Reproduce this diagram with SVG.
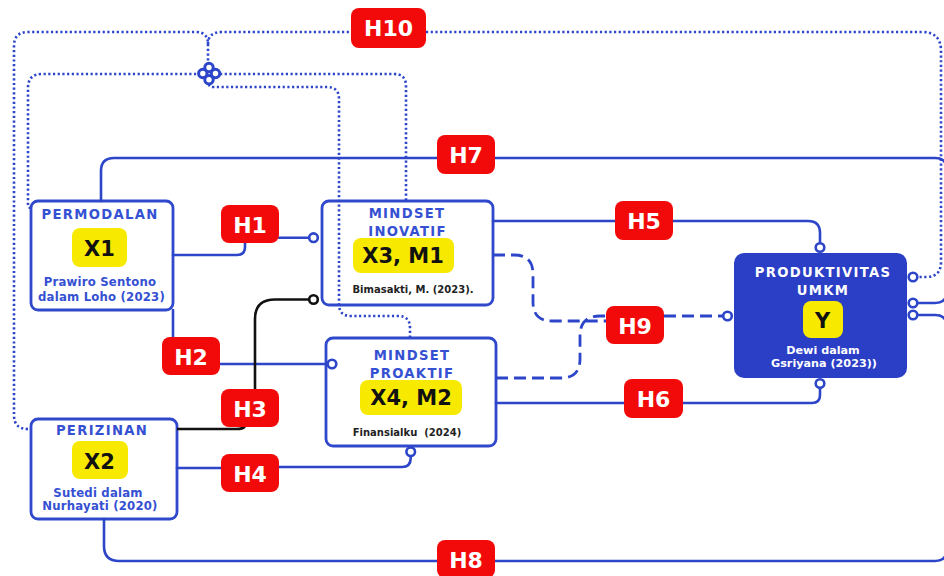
<svg xmlns="http://www.w3.org/2000/svg" width="944" height="576" viewBox="0 0 944 576">
<style>
.box{fill:#fff;stroke:#2f48cc;stroke-width:2.8}
.ybox{fill:#2a3ec6;stroke:none}
.yel{fill:#f7ea00}
.c{fill:none;stroke:#2c45c9;stroke-width:2.6;stroke-linecap:round;stroke-linejoin:round}
.k{fill:none;stroke:#111;stroke-width:2.6}
.d{fill:none;stroke:#2c45c9;stroke-width:2.8;stroke-dasharray:12 6}
.o{fill:none;stroke:#2c45c9;stroke-width:2.6;stroke-dasharray:2.2 2.5}
.p{fill:#fff;stroke:#2c45c9;stroke-width:2.6}
.pj{fill:#fff;stroke:#2c45c9;stroke-width:3}
.pk{fill:#fff;stroke:#111;stroke-width:2.6}
.lab{fill:#f20a0a}
text{font-family:"DejaVu Sans","Liberation Sans",sans-serif;font-weight:bold;text-anchor:middle}
.t{font-size:13.2px;letter-spacing:1.3px;fill:#3550d2}
.tw{font-size:13.2px;letter-spacing:1.3px;fill:#fff}
.code{font-size:21px;fill:#111}
.r{font-size:11.7px;letter-spacing:0.2px;fill:#3550d2}
.rw{font-size:11.2px;fill:#fff}
.rk{font-size:10px;fill:#222;white-space:pre}
.h{font-size:22px;fill:#fff}
</style>

<g id="node-x1">
<rect class="box" x="31" y="201" width="142" height="109" rx="7"/>
<text class="t" x="100" y="219">PERMODALAN</text>
<rect class="yel" x="72" y="228" width="55" height="39" rx="8"/>
<text class="code" x="99.5" y="256">X1</text>
<text class="r" x="100" y="286">Prawiro Sentono</text>
<text class="r" x="101.5" y="301">dalam Loho (2023)</text>
</g>

<g id="node-x3">
<rect class="box" x="322" y="201" width="171" height="104" rx="7"/>
<text class="t" x="407" y="218">MINDSET</text>
<text class="t" x="407.5" y="235.5">INOVATIF</text>
<rect class="yel" x="353" y="238" width="101" height="35" rx="8"/>
<text class="code" x="403" y="263">X3, M1</text>
<text class="rk" x="413" y="293">Bimasakti, M. (2023).</text>
</g>

<g id="node-x4">
<rect class="box" x="326" y="338" width="170" height="108" rx="7"/>
<text class="t" x="412" y="360">MINDSET</text>
<text class="t" x="412" y="378">PROAKTIF</text>
<rect class="yel" x="360" y="380" width="102" height="35" rx="8"/>
<text class="code" x="411" y="405">X4, M2</text>
<text class="rk" x="407" y="436">Finansialku  (2024)</text>
</g>

<g id="node-x2">
<rect class="box" x="31" y="419" width="146" height="100" rx="7"/>
<text class="t" x="102" y="435">PERIZINAN</text>
<rect class="yel" x="72" y="441" width="56" height="38" rx="8"/>
<text class="code" x="99.5" y="469">X2</text>
<text class="r" x="98" y="497">Sutedi dalam</text>
<text class="r" x="100" y="510">Nurhayati (2020)</text>
</g>

<g id="node-y">
<rect class="ybox" x="734" y="253" width="173" height="125" rx="10"/>
<text class="tw" x="823" y="277">PRODUKTIVITAS</text>
<text class="tw" x="823" y="294.5">UMKM</text>
<rect class="yel" x="803" y="301" width="40" height="37" rx="8"/>
<text class="code" x="822.5" y="328">Y</text>
<text class="rw" x="823" y="353.5">Dewi dalam</text>
<text class="rw" x="824" y="367">Gsriyana (2023))</text>
</g>

<g id="connectors">
<!-- H10 dotted network -->
<path class="o" d="M28,429 Q14,429 14,415 V46 Q14,32 28,32 H196 Q208,32 208,44 V63"/>
<path class="o" d="M208,44 Q208,32 222,32 H351"/>
<path class="o" d="M426,32 H922 Q941,32 941,51 V262 Q941,277 926,277 H918"/>
<path class="o" d="M31,208 Q28,208 28,204 V88 Q28,74 42,74 H198"/>
<path class="o" d="M220,74 H394 Q406,74 406,86 V201"/>
<path class="o" d="M209,84 Q209,87 213,87 H327 Q339,87 339,99 V304 Q339,316 351,316 H398 Q410,316 410,328 V338"/>
<circle class="pj" cx="209" cy="67.5" r="4.2"/>
<circle class="pj" cx="202.8" cy="73.5" r="4.2"/>
<circle class="pj" cx="215.5" cy="73.5" r="4.2"/>
<circle class="pj" cx="209" cy="79.8" r="4.2"/>
<circle class="p" cx="913" cy="277" r="4.3"/>
<!-- H7 -->
<path class="c" d="M101,201 V171 Q101,158 114,158 H935 Q947,158 947,170 V291 Q947,303 935,303 H917.5"/>
<circle class="p" cx="913" cy="303" r="4.3"/>
<!-- H8 -->
<path class="c" d="M104,519 V546 Q104,561 119,561 H935 Q947,561 947,549 V327 Q947,315 935,315 H917.5"/>
<circle class="p" cx="913" cy="315" r="4.3"/>
<!-- H1 -->
<path class="c" d="M173,255 H237 Q245,255 245,247 V243"/>
<path class="c" d="M279,237.7 H309"/>
<circle class="p" cx="313.5" cy="237.7" r="4.3"/>
<!-- H2 -->
<path class="c" d="M173,310 V337"/>
<path class="c" d="M220,364 H327.5"/>
<circle class="p" cx="332" cy="364" r="4.3"/>
<!-- H3 black -->
<path class="k" d="M177,429 H236 Q244,429 245,426"/>
<path class="k" d="M255,389 V319 Q255,299.5 275,299.5 H309"/>
<circle class="pk" cx="313.5" cy="299.5" r="4.3"/>
<!-- H4 -->
<path class="c" d="M177,468 H221"/>
<path class="c" d="M279,467 H402 Q410.7,467 410.7,458 V456"/>
<circle class="p" cx="410.7" cy="451.7" r="4.3"/>
<!-- H5 -->
<path class="c" d="M493,221 H615"/>
<path class="c" d="M673,221 H808 Q820,221 820,233 V243"/>
<circle class="p" cx="820" cy="247.5" r="4.3"/>
<!-- H6 -->
<path class="c" d="M496,403 H624"/>
<path class="c" d="M683,403 H812 Q820,403 820,395 V388"/>
<circle class="p" cx="820" cy="383.5" r="4.3"/>
<!-- H9 dashed -->
<path class="d" d="M493,255 H514 Q533,255 533,274 V302 Q533,321 552,321 H606"/>
<path class="d" d="M496,378 H561 Q580,378 580,359 V336 Q580,316 600,316 H606"/>
<path class="d" d="M664,316 H723"/>
<circle class="p" cx="727.5" cy="316" r="4.3"/>
</g>

<g id="labels">
<g id="lab-h10"><rect class="lab" x="351" y="8" width="75" height="40" rx="8"/><text class="h" x="388.5" y="36">H10</text></g>
<g id="lab-h7"><rect class="lab" x="437" y="135" width="58" height="39" rx="8"/><text class="h" x="466" y="163">H7</text></g>
<g id="lab-h1"><rect class="lab" x="221" y="205" width="58" height="38" rx="8"/><text class="h" x="250" y="232.5">H1</text></g>
<g id="lab-h5"><rect class="lab" x="615" y="201" width="58" height="39" rx="8"/><text class="h" x="644" y="229">H5</text></g>
<g id="lab-h2"><rect class="lab" x="162" y="337" width="58" height="38" rx="8"/><text class="h" x="191" y="364.5">H2</text></g>
<g id="lab-h9"><rect class="lab" x="606" y="306" width="58" height="38" rx="8"/><text class="h" x="635" y="333.5">H9</text></g>
<g id="lab-h3"><rect class="lab" x="221" y="389" width="58" height="38" rx="8"/><text class="h" x="250" y="416.5">H3</text></g>
<g id="lab-h6"><rect class="lab" x="624" y="379" width="59" height="39" rx="8"/><text class="h" x="653.5" y="407">H6</text></g>
<g id="lab-h4"><rect class="lab" x="221" y="454" width="58" height="38" rx="8"/><text class="h" x="250" y="481.5">H4</text></g>
<g id="lab-h8"><rect class="lab" x="437" y="540" width="58" height="38" rx="8"/><text class="h" x="466" y="567.5">H8</text></g>
</g>
</svg>
